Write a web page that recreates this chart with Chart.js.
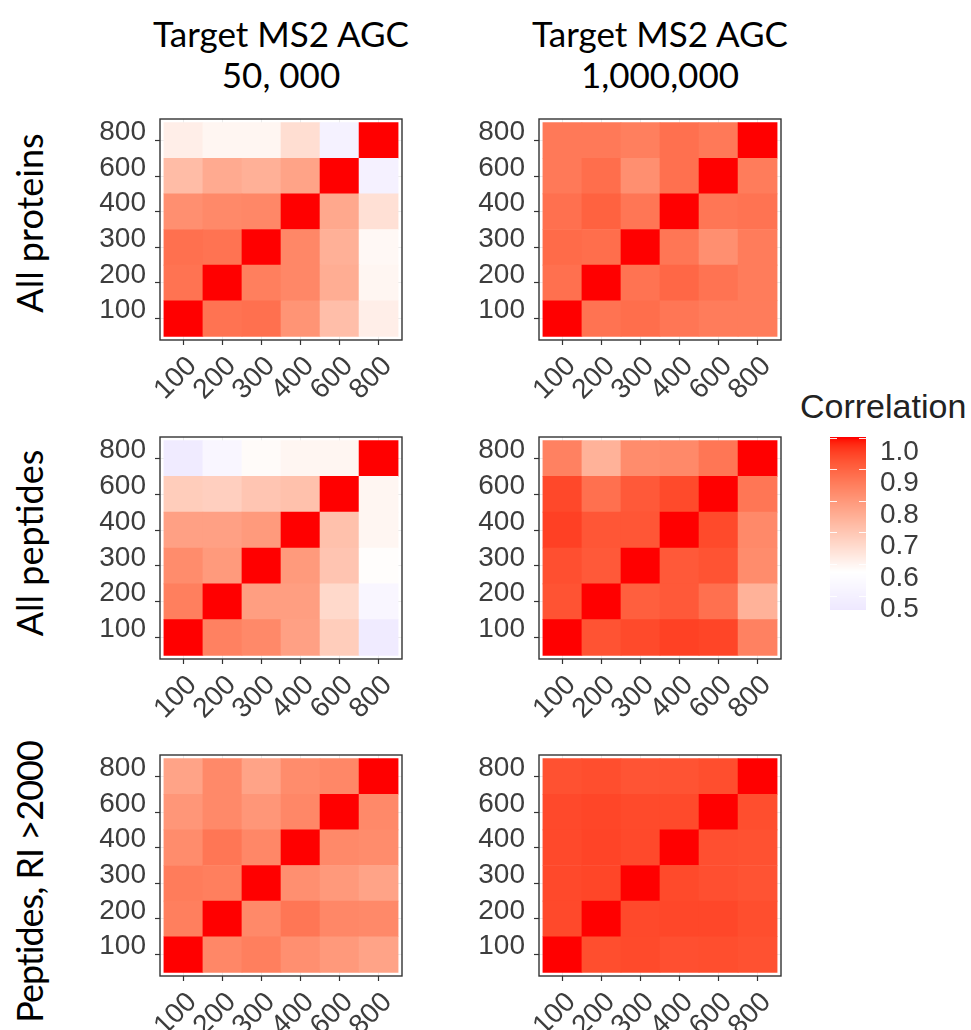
<!DOCTYPE html>
<html>
<head>
<meta charset="utf-8">
<script src="https://cdn.jsdelivr.net/npm/chart.js@4.4.1/dist/chart.umd.min.js"></script>
<style>
  html, body { margin: 0; padding: 0; background: #fff; overflow: hidden; }
  #page { position: relative; width: 971px; height: 1030px; overflow: hidden; background: #fff; }
  #page canvas { position: absolute; }
  .col-title { position: absolute; font-family: Lato, "Noto Sans", sans-serif; font-size: 35px; line-height: 35px;
               color: #000; white-space: nowrap; transform: translateX(-50%); }
  .row-title { position: absolute; font-family: Lato, "Noto Sans", sans-serif; font-size: 36px; line-height: 36px;
               color: #000; white-space: nowrap; transform: translate(-50%, -50%) rotate(-90deg); }
  .row-title.long { letter-spacing: -1px; }
  .legend-title { position: absolute; font-family: "Liberation Sans", Arial, sans-serif; font-size: 34px;
                  line-height: 34px; color: #222; white-space: nowrap; }
</style>
</head>
<body>
<div id="page"></div>
<script>
// Window sizes (m/z width) compared on both axes
const sizes = ['100', '200', '300', '400', '600', '800'];

const columnTitles = ['Target MS2 AGC', 'Target MS2 AGC'];
const columnSubtitles = ['50, 000', '1,000,000'];
const rowTitles = ['All proteins', 'All peptides', 'Peptides, RI >2000'];
const legendTitle = 'Correlation';
const legendTicks = [0.5, 0.6, 0.7, 0.8, 0.9, 1.0];

// Correlation matrices; row i and column j follow `sizes` (row 0 = 100, drawn at the bottom)
const proteinsAgc50k = [
  [1.000, 0.873, 0.878, 0.809, 0.718, 0.612],
  [0.873, 1.000, 0.851, 0.835, 0.756, 0.596],
  [0.878, 0.873, 1.000, 0.835, 0.750, 0.591],
  [0.819, 0.830, 0.835, 1.000, 0.766, 0.644],
  [0.724, 0.761, 0.750, 0.777, 1.000, 0.500],
  [0.612, 0.596, 0.596, 0.649, 0.505, 1.000]
];
const proteinsAgc1M = [
  [1.000, 0.873, 0.883, 0.867, 0.856, 0.856],
  [0.878, 1.000, 0.873, 0.894, 0.873, 0.856],
  [0.888, 0.883, 1.000, 0.867, 0.819, 0.856],
  [0.878, 0.904, 0.867, 1.000, 0.867, 0.873],
  [0.862, 0.883, 0.819, 0.878, 1.000, 0.856],
  [0.862, 0.862, 0.851, 0.878, 0.862, 1.000]
];
const peptidesAgc50k = [
  [1.000, 0.846, 0.830, 0.783, 0.687, 0.470],
  [0.851, 1.000, 0.788, 0.788, 0.660, 0.530],
  [0.825, 0.796, 1.000, 0.796, 0.705, 0.580],
  [0.783, 0.783, 0.796, 1.000, 0.713, 0.596],
  [0.687, 0.681, 0.703, 0.713, 1.000, 0.596],
  [0.470, 0.530, 0.585, 0.596, 0.596, 1.000]
];
const peptidesAgc1M = [
  [1.000, 0.928, 0.941, 0.953, 0.948, 0.846],
  [0.928, 1.000, 0.909, 0.918, 0.878, 0.745],
  [0.934, 0.918, 1.000, 0.918, 0.928, 0.825],
  [0.954, 0.923, 0.923, 1.000, 0.941, 0.830],
  [0.944, 0.878, 0.918, 0.941, 1.000, 0.867],
  [0.846, 0.745, 0.825, 0.830, 0.867, 1.000]
];
const brightPeptidesAgc50k = [
  [1.000, 0.835, 0.851, 0.819, 0.798, 0.777],
  [0.851, 1.000, 0.830, 0.867, 0.835, 0.830],
  [0.856, 0.851, 1.000, 0.819, 0.798, 0.777],
  [0.825, 0.867, 0.835, 1.000, 0.830, 0.825],
  [0.803, 0.830, 0.803, 0.835, 1.000, 0.830],
  [0.777, 0.830, 0.777, 0.825, 0.835, 1.000]
];
const brightPeptidesAgc1M = [
  [1.000, 0.936, 0.941, 0.934, 0.936, 0.931],
  [0.942, 1.000, 0.942, 0.945, 0.945, 0.936],
  [0.942, 0.947, 1.000, 0.941, 0.934, 0.928],
  [0.942, 0.949, 0.942, 1.000, 0.934, 0.931],
  [0.942, 0.947, 0.941, 0.941, 1.000, 0.936],
  [0.931, 0.936, 0.926, 0.928, 0.936, 1.000]
];

// ---- colour scale: lavender -> white -> red, interpolated in CIELAB ----
const SCALE_MIN = 0.454, SCALE_MID = 0.575, SCALE_MAX = 1.0;
const LOW_RGB = [238, 232, 255], MID_RGB = [255, 255, 255], HIGH_RGB = [255, 0, 0];

function toLinear(c) { c /= 255; return c <= 0.04045 ? c / 12.92 : Math.pow((c + 0.055) / 1.055, 2.4); }
function toSrgb(c) {
  c = Math.max(0, Math.min(1, c));
  return 255 * (c <= 0.0031308 ? 12.92 * c : 1.055 * Math.pow(c, 1 / 2.4) - 0.055);
}
function rgbToLab(rgb) {
  const [R, G, B] = rgb.map(toLinear);
  const X = (0.4124 * R + 0.3576 * G + 0.1805 * B) / 0.95047;
  const Y = 0.2126 * R + 0.7152 * G + 0.0722 * B;
  const Z = (0.0193 * R + 0.1192 * G + 0.9505 * B) / 1.08883;
  const f = t => t > 0.008856 ? Math.cbrt(t) : 7.787 * t + 16 / 116;
  const fx = f(X), fy = f(Y), fz = f(Z);
  return [116 * fy - 16, 500 * (fx - fy), 200 * (fy - fz)];
}
function labToRgb([L, a, b]) {
  const fy = (L + 16) / 116, fx = fy + a / 500, fz = fy - b / 200;
  const inv = t => t > 0.206893 ? t * t * t : (t - 16 / 116) / 7.787;
  const X = 0.95047 * inv(fx), Y = inv(fy), Z = 1.08883 * inv(fz);
  const R = 3.2406 * X - 1.5372 * Y - 0.4986 * Z;
  const G = -0.9689 * X + 1.8758 * Y + 0.0415 * Z;
  const B = 0.0557 * X - 0.2040 * Y + 1.0570 * Z;
  return [R, G, B].map(c => Math.round(toSrgb(c)));
}
const LAB_LOW = rgbToLab(LOW_RGB), LAB_MID = rgbToLab(MID_RGB), LAB_HIGH = rgbToLab(HIGH_RGB);

function corrColour(v) {
  let from, to, t;
  if (v >= SCALE_MID) { from = LAB_MID; to = LAB_HIGH; t = (v - SCALE_MID) / (SCALE_MAX - SCALE_MID); }
  else { from = LAB_MID; to = LAB_LOW; t = (SCALE_MID - v) / (SCALE_MID - SCALE_MIN); }
  t = Math.max(0, Math.min(1, t));
  const lab = from.map((c, i) => c + (to[i] - c) * t);
  const [r, g, b] = labToRgb(lab);
  return `rgb(${r},${g},${b})`;
}

// ---- page layout ----
const page = document.getElementById('page');

function addText(cls, text, left, top) {
  const d = document.createElement('div');
  d.className = cls;
  d.textContent = text;
  d.style.left = left + 'px';
  d.style.top = top + 'px';
  page.appendChild(d);
  return d;
}

const columnCentres = [281, 660];
columnTitles.forEach((t, i) => addText('col-title', t, columnCentres[i], 16));
columnSubtitles.forEach((t, i) => addText('col-title', t, columnCentres[i], 57));

const rowCentres = [223, 543, 882];
rowTitles.forEach((t, i) => addText(i === 2 ? 'row-title long' : 'row-title', t, 29, rowCentres[i]));

addText('legend-title', legendTitle, 800, 389);

// panel frame drawn around the plotting area
const panelFrame = {
  id: 'panelFrame',
  afterDatasetsDraw(chart) {
    const { ctx, chartArea: a } = chart;
    ctx.save();
    ctx.strokeStyle = '#333333';
    ctx.lineWidth = 1.4;
    ctx.strokeRect(a.left, a.top, a.right - a.left, a.bottom - a.top);
    ctx.restore();
  }
};

const tickFont = { family: '"Liberation Sans", Arial, sans-serif', size: 28 };
const AXIS_W = 80, AXIS_H = 80, PAD_TOP = 40, PAD_RIGHT = 30;

function categoryAxis(isX) {
  const axis = {
    type: 'linear',
    offset: false,
    min: -0.6,
    max: sizes.length - 0.4,
    afterBuildTicks: s => { s.ticks = sizes.map((_, i) => ({ value: i })); },
    grid: { offset: false, color: '#EBEBEB', lineWidth: 1, drawTicks: true, tickLength: 5,
            tickColor: '#333333', tickWidth: 1.2 },
    border: { display: false },
    ticks: {
      autoSkip: false,
      color: '#3d3d3d',
      font: tickFont,
      callback: v => sizes[v]
    }
  };
  if (isX) {
    axis.afterFit = s => { s.height = AXIS_H; };
    Object.assign(axis.ticks, { minRotation: 45, maxRotation: 45, padding: 5, labelOffset: 9 });
  } else {
    axis.afterFit = s => { s.width = AXIS_W; };
    Object.assign(axis.ticks, { padding: 9, labelOffset: -8 });
  }
  return axis;
}

function drawPanel(matrix, box) {
  const canvas = document.createElement('canvas');
  canvas.width = box.w + AXIS_W + PAD_RIGHT;
  canvas.height = box.h + PAD_TOP + AXIS_H;
  canvas.style.left = (box.x - AXIS_W) + 'px';
  canvas.style.top = (box.y - PAD_TOP) + 'px';
  page.appendChild(canvas);

  const datasets = matrix.map((row, r) => ({
    data: row.map((v, c) => ({ x: c, y: [r - 0.5, r + 0.5] })),
    backgroundColor: row.map(corrColour),
    borderWidth: 0,
    grouped: false,
    barPercentage: 1,
    categoryPercentage: 1
  }));

  new Chart(canvas, {
    type: 'bar',
    data: { datasets },
    options: {
      responsive: false,
      animation: false,
      devicePixelRatio: 1,
      layout: { padding: { top: PAD_TOP, right: PAD_RIGHT, left: 0, bottom: 0 } },
      plugins: { legend: { display: false }, tooltip: { enabled: false } },
      scales: { x: categoryAxis(true), y: categoryAxis(false) }
    },
    plugins: [panelFrame]
  });
}

drawPanel(proteinsAgc50k,       { x: 160, y: 119, w: 242, h: 221 });
drawPanel(proteinsAgc1M,        { x: 539, y: 119, w: 242, h: 221 });
drawPanel(peptidesAgc50k,       { x: 160, y: 437, w: 242, h: 222 });
drawPanel(peptidesAgc1M,        { x: 539, y: 437, w: 242, h: 222 });
drawPanel(brightPeptidesAgc50k, { x: 160, y: 755, w: 242, h: 221 });
drawPanel(brightPeptidesAgc1M,  { x: 539, y: 755, w: 242, h: 221 });

// ---- colour bar legend ----
const colourBar = {
  id: 'colourBar',
  beforeDatasetsDraw(chart) {
    const { ctx, chartArea: a, scales: { y } } = chart;
    ctx.save();
    for (let py = Math.floor(a.top); py < Math.ceil(a.bottom); py++) {
      ctx.fillStyle = corrColour(y.getValueForPixel(py + 0.5));
      ctx.fillRect(a.left, py, a.right - a.left, 1);
    }
    ctx.strokeStyle = 'rgba(255,255,255,0.9)';
    ctx.lineWidth = 1;
    y.ticks.forEach(t => {
      const py = Math.round(y.getPixelForValue(t.value)) + 0.5;
      ctx.beginPath();
      ctx.moveTo(a.left, py); ctx.lineTo(a.left + 7, py);
      ctx.moveTo(a.right - 7, py); ctx.lineTo(a.right, py);
      ctx.stroke();
    });
    ctx.restore();
  }
};

const LEGEND_PAD = 45;
const legendCanvas = document.createElement('canvas');
legendCanvas.width = 36 + 80;
legendCanvas.height = 173 + 2 * LEGEND_PAD;
legendCanvas.style.left = '830px';
legendCanvas.style.top = (437 - LEGEND_PAD) + 'px';
page.appendChild(legendCanvas);

new Chart(legendCanvas, {
  type: 'bar',
  data: { labels: [], datasets: [] },
  options: {
    responsive: false,
    animation: false,
    devicePixelRatio: 1,
    layout: { padding: { top: LEGEND_PAD, bottom: LEGEND_PAD, left: 0, right: 0 } },
    plugins: { legend: { display: false }, tooltip: { enabled: false } },
    scales: {
      x: { display: false },
      y: {
        position: 'right',
        min: 0.454,
        max: 1.003,
        afterBuildTicks: s => { s.ticks = legendTicks.map(v => ({ value: v })); },
        afterFit: s => { s.width = 80; },
        grid: { display: false, drawTicks: false },
        border: { display: false },
        ticks: {
          autoSkip: false,
          padding: 14,
          labelOffset: 14,
          color: '#3d3d3d',
          font: { family: '"Liberation Sans", Arial, sans-serif', size: 28 },
          callback: v => v.toFixed(1)
        }
      }
    }
  },
  plugins: [colourBar]
});
</script>
</body>
</html>
